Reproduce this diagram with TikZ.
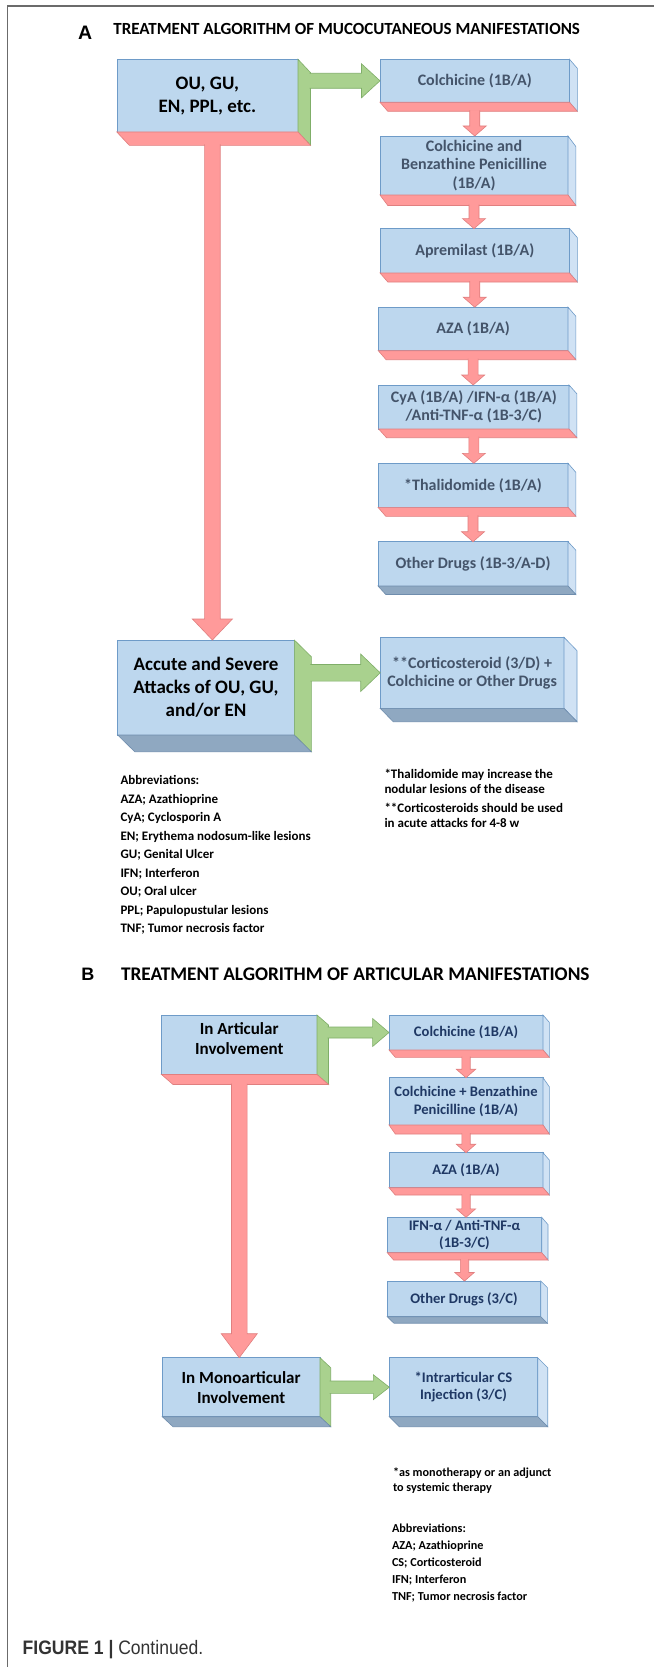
\documentclass[tikz,border=0pt]{standalone}
\usepackage{fontspec}
\setmainfont{Carlito}
\newfontfamily\arialf{Liberation Sans}
\usetikzlibrary{calc}
\definecolor{frf}{HTML}{BDD7EE}
\definecolor{frb}{HTML}{6E9BC8}
\definecolor{sidef}{HTML}{D0E2F4}
\definecolor{pkf}{HTML}{FF9A9A}
\definecolor{pkb}{HTML}{E07F7F}
\definecolor{grf}{HTML}{A9D18E}
\definecolor{grb}{HTML}{7FAE68}
\definecolor{gbf}{HTML}{8FA8C1}
\definecolor{gbb}{HTML}{6F8DAD}
\definecolor{txA}{HTML}{44546A}
\definecolor{txB}{HTML}{1F3864}
\definecolor{framec}{HTML}{6B6B6B}
\definecolor{figc}{HTML}{333333}

\tikzset{
 fr/.style={draw=frb, fill=frf, line width=0.6pt, inner sep=0pt, outer sep=0pt, align=center, anchor=north west},
 sideL/.style={draw=frb, fill=sidef, line width=0.6pt},
 sideG/.style={draw=grb, fill=grf, line width=0.6pt},
 botP/.style={draw=pkb, fill=pkf, line width=0.6pt},
 botG/.style={draw=gbb, fill=gbf, line width=0.6pt},
 pkfill/.style={fill=pkf}, pkline/.style={draw=pkb, line width=0.6pt},
 grfill/.style={fill=grf}, grline/.style={draw=grb, line width=0.6pt},
 bigt/.style={font=\bfseries\fontsize{19}{23}\selectfont},
 medt/.style={font=\bfseries\fontsize{17}{20}\selectfont},
 drA/.style={font=\bfseries\fontsize{16}{18.5}\selectfont, text=txA},
 drB/.style={font=\bfseries\fontsize{14.6}{17.5}\selectfont, text=txB},
 txt/.style={inner sep=0pt, outer sep=0pt, anchor=base west},
 noteA/.style={txt, font=\bfseries\fontsize{13}{15}\selectfont},
 noteB/.style={txt, font=\bfseries\fontsize{12.2}{15}\selectfont},
}

% bevel faces: node, dx, dy, right-face style, bottom-face style
\newcommand{\bev}[5]{%
 \filldraw[#4] (#1.north east) -- ++(#2,#3) -- ($(#1.south east)+(#2,#3)$) -- (#1.south east) -- cycle;
 \filldraw[#5] (#1.south west) -- ++(#2,#3) -- ($(#1.south east)+(#2,#3)$) -- (#1.south east) -- cycle;}
% fat down arrow: colour, start, tip, shaft half, head half, head length
\newcommand{\darr}[6]{%
 \fill[#1fill] let \p1=(#2), \p2=(#3) in (\x1-#4pt,\y1) -- (\x1-#4pt,\y2+#6pt) -- (\x1-#5pt,\y2+#6pt) -- (\x1,\y2) -- (\x1+#5pt,\y2+#6pt) -- (\x1+#4pt,\y2+#6pt) -- (\x1+#4pt,\y1) -- cycle;
 \draw[#1line] let \p1=(#2), \p2=(#3) in (\x1-#4pt,\y1) -- (\x1-#4pt,\y2+#6pt) -- (\x1-#5pt,\y2+#6pt) -- (\x1,\y2) -- (\x1+#5pt,\y2+#6pt) -- (\x1+#4pt,\y2+#6pt) -- (\x1+#4pt,\y1);}
% fat right arrow: colour, start, tip, shaft half, head half, head length
\newcommand{\rarr}[6]{%
 \fill[#1fill] let \p1=(#2), \p2=(#3) in (\x1,\y2+#4pt) -- (\x2-#6pt,\y2+#4pt) -- (\x2-#6pt,\y2+#5pt) -- (\x2,\y2) -- (\x2-#6pt,\y2-#5pt) -- (\x2-#6pt,\y2-#4pt) -- (\x1,\y2-#4pt) -- cycle;
 \draw[#1line] let \p1=(#2), \p2=(#3) in (\x1,\y2+#4pt) -- (\x2-#6pt,\y2+#4pt) -- (\x2-#6pt,\y2+#5pt) -- (\x2,\y2) -- (\x2-#6pt,\y2-#5pt) -- (\x2-#6pt,\y2-#4pt) -- (\x1,\y2-#4pt);}

\begin{document}
\begin{tikzpicture}[x=1pt, y=-1pt]
\useasboundingbox (0,0) rectangle (654,1667);
\fill[white] (0,0) rectangle (654,1667);
\draw[framec, line width=1.5pt] (7.5,1667) -- (7.5,5.9) -- (654,5.9);

% ---------------- Panel A ----------------
\node[txt, font=\arialf\bfseries\fontsize{19.5}{22}\selectfont] (lA) at (78.2,39.4) {A};
\node[txt, font=\bfseries\fontsize{17}{20}\selectfont] (tA) at (113.4,34.5) {TREATMENT ALGORITHM OF MUCOCUTANEOUS MANIFESTATIONS};

\node[fr, bigt, minimum width=181.2pt, minimum height=72.7pt] (ou) at (116.8,59.3) {OU, GU,\\EN, PPL, etc.};
\node[fr, drA, minimum width=189.5pt, minimum height=43pt] (c1) at (380,59.3) {Colchicine (1B/A)};
\node[fr, drA, minimum width=188pt, minimum height=59pt] (c2) at (380,136) {Colchicine and\\Benzathine Penicilline\\(1B/A)};
\node[fr, drA, minimum width=189.5pt, minimum height=44.4pt] (c3) at (380,228.6) {Apremilast (1B/A)};
\node[fr, drA, minimum width=189.7pt, minimum height=43.5pt] (c4) at (378.3,307.2) {AZA (1B/A)};
\node[fr, drA, minimum width=190.3pt, minimum height=44pt] (c5) at (378.7,385) {CyA (1B/A) /IFN-α (1B/A)\\/Anti-TNF-α (1B-3/C)};
\node[fr, drA, minimum width=190pt, minimum height=44pt] (c6) at (378,463.3) {*Thalidomide (1B/A)};
\node[fr, drA, minimum width=190pt, minimum height=44.3pt] (c7) at (378,541.7) {Other Drugs (1B-3/A-D)};
\node[fr, bigt, minimum width=176.6pt, minimum height=95pt] (acc) at (117.7,640) {Accute and Severe\\Attacks of OU, GU,\\and/or EN};
\node[fr, drA, minimum width=183.8pt, minimum height=71pt] (cort) at (380.2,637.3) {**Corticosteroid (3/D) +\\Colchicine or Other Drugs};

\bev{ou}{12.5}{13.3}{sideG}{botP}
\bev{c1}{7.8}{9}{sideL}{botP}
\bev{c2}{7.8}{10.5}{sideL}{botP}
\bev{c3}{7.8}{9}{sideL}{botP}
\bev{c4}{7.8}{9}{sideL}{botP}
\bev{c5}{7.8}{8.7}{sideL}{botP}
\bev{c6}{7.8}{9}{sideL}{botP}
\bev{c7}{7.8}{8.5}{sideL}{botG}
\bev{acc}{17}{16.7}{sideG}{botG}
\bev{cort}{13}{13.4}{sideL}{botG}

\rarr{gr}{$(ou.east)+(11.5,0)$}{c1.west}{7.5}{17}{18.5}
\rarr{gr}{$(acc.east)+(16,0)$}{cort.west}{8.3}{18.7}{19.5}
\darr{pk}{$(ou.south)+(5,12.3)$}{acc.north}{7.8}{20}{21}
\darr{pk}{$(c1.south)+(0,8)$}{c2.north}{5}{11.5}{10}
\darr{pk}{$(c2.south)+(0,9.5)$}{c3.north}{5}{11.5}{10}
\darr{pk}{$(c3.south)+(0,8)$}{c4.north}{5}{11.5}{10}
\darr{pk}{$(c4.south)+(0,8)$}{c5.north}{5}{11.5}{10}
\darr{pk}{$(c5.south)+(0,7.7)$}{c6.north}{5}{11.5}{10}
\darr{pk}{$(c6.south)+(0,8)$}{c7.north}{5}{11.5}{10}

\foreach \t [count=\i from 0] in {{Abbreviations:},{AZA; Azathioprine},{CyA; Cyclosporin A},{EN; Erythema nodosum-like lesions},{GU; Genital Ulcer},{IFN; Interferon},{OU; Oral ulcer},{PPL; Papulopustular lesions},{TNF; Tumor necrosis factor}}
  \node[noteA] (abA\i) at (120.5,784.5+18.5*\i) {\t};

\node[noteA] (nA1) at (384.5,778) {*Thalidomide may increase the};
\node[noteA] (nA2) at (384.5,793.3) {nodular lesions of the disease};
\node[noteA] (nA3) at (384.5,812) {**Corticosteroids should be used};
\node[noteA] (nA4) at (384.5,827.3) {in acute attacks for 4-8 w};

% ---------------- Panel B ----------------
\node[txt, font=\arialf\bfseries\fontsize{18}{21}\selectfont] (lB) at (81.3,980.7) {B};
\node[txt, font=\bfseries\fontsize{19.3}{22}\selectfont] (tB) at (121,980.7) {TREATMENT ALGORITHM OF ARTICULAR MANIFESTATIONS};

\node[fr, minimum width=155.5pt, minimum height=59.5pt] (art) at (161.5,1015) {};
\node[medt, align=center, inner sep=0pt] (artt) at ($(art.center)+(0,-6)$) {In Articular\\Involvement};
\node[fr, drB, minimum width=154pt, minimum height=35pt] (bc1) at (389,1015) {Colchicine (1B/A)};
\node[fr, drB, minimum width=154pt, minimum height=47.3pt] (bc2) at (389,1077.7) {Colchicine + Benzathine\\Penicilline (1B/A)};
\node[fr, drB, minimum width=154pt, minimum height=35pt] (bc3) at (389,1152.7) {AZA (1B/A)};
\node[fr, drB, minimum width=154.4pt, minimum height=35.4pt] (bc4) at (387.3,1217.3) {IFN-α / Anti-TNF-α\\(1B-3/C)};
\node[fr, drB, minimum width=153.4pt, minimum height=35.7pt] (bc5) at (387.3,1281) {Other Drugs (3/C)};
\node[fr, medt, minimum width=157.7pt, minimum height=59pt] (mono) at (162.3,1357.7) {In Monoarticular\\Involvement};
\node[fr, drB, minimum width=148.4pt, minimum height=59pt] (intra) at (389.3,1357.7) {*Intrarticular CS\\Injection (3/C)};

\bev{art}{11.5}{10}{sideG}{botP}
\bev{bc1}{6.3}{7.3}{sideL}{botP}
\bev{bc2}{6.3}{9}{sideL}{botP}
\bev{bc3}{6.3}{7.3}{sideL}{botP}
\bev{bc4}{6.3}{7.3}{sideL}{botP}
\bev{bc5}{6.6}{6.5}{sideL}{botG}
\bev{mono}{10.7}{10}{sideG}{botG}
\bev{intra}{10}{10}{sideL}{botG}

\rarr{gr}{$(art.east)+(10.5,0)$}{bc1.west}{5.5}{14}{16.4}
\rarr{gr}{$(mono.east)+(9.7,0)$}{intra.west}{6.2}{12.5}{16}
\darr{pk}{$(art.south)+(0,9)$}{mono.north}{7.8}{18}{24}
\darr{pk}{$(bc1.south)+(0,6.5)$}{bc2.north}{4.2}{9.7}{8.5}
\darr{pk}{$(bc2.south)+(0,8.2)$}{bc3.north}{4.2}{9.7}{8.5}
\darr{pk}{$(bc3.south)+(0,6.5)$}{bc4.north}{4.2}{9.7}{8.5}
\darr{pk}{$(bc4.south)+(0,6.5)$}{bc5.north}{4.2}{9.7}{8.5}

\node[noteB] (nB1) at (393,1476) {*as monotherapy or an adjunct};
\node[noteB] (nB2) at (393,1491) {to systemic therapy};
\foreach \t [count=\i from 0] in {{Abbreviations:},{AZA; Azathioprine},{CS; Corticosteroid},{IFN; Interferon},{TNF; Tumor necrosis factor}}
  \node[noteB] (abB\i) at (392,1532.3+17*\i) {\t};

% ---------------- caption ----------------
\node[txt, font=\arialf\fontsize{19.5}{22}\selectfont] (cap) at (22.7,1654.3) {\scalebox{0.9}[1]{\textcolor{figc}{\bfseries FIGURE 1 |} \textcolor{figc}{Continued.}}};
\end{tikzpicture}
\end{document}
